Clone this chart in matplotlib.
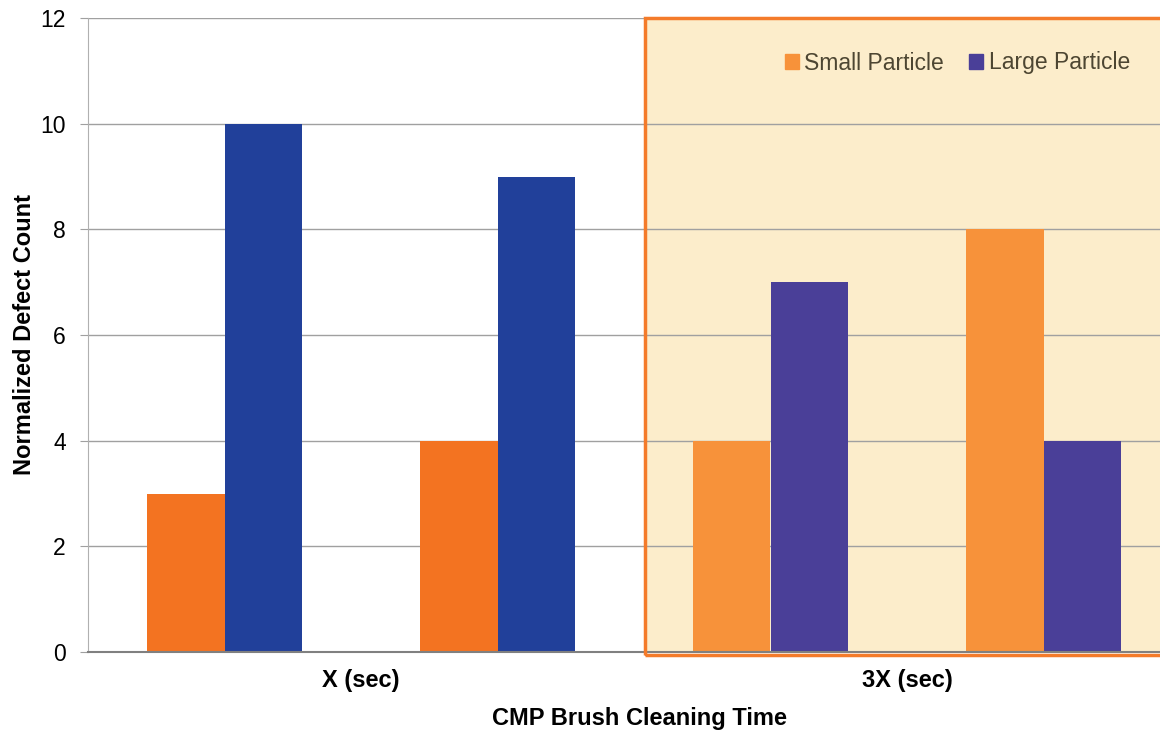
import numpy as np
import matplotlib.pyplot as plt
from matplotlib.patches import Rectangle, Patch

plt.rcParams['font.family'] = ['Liberation Sans', 'DejaVu Sans']

small = [3, 4, 4, 8]
large = [10, 9, 7, 4]
small_colors = ['#F37321', '#F37321', '#F7923A', '#F7923A']
large_colors = ['#21409A', '#21409A', '#4A3F98', '#4A3F98']
cat_labels = ['X (sec)', '3X (sec)']
cat_pos = [0.5, 2.5]

fig = plt.figure(figsize=(11.6, 7.31), dpi=100)
ax = fig.add_axes([88 / 1160, 1 - 652 / 731, (1180 - 88) / 1160, (652 - 18) / 731])

x = np.arange(len(small))
w = 0.285
ax.bar(x - w / 2, small, w, color=small_colors, zorder=2)
ax.bar(x + w / 2, large, w, color=large_colors, zorder=2)

# shaded 3X region
ax.add_patch(Rectangle((1.54, -0.06), 2.2, 12.06, facecolor='#FCEDCB',
                       edgecolor='none', zorder=0.5))
ax.add_patch(Rectangle((1.54, -0.06), 2.2, 12.06, facecolor='none',
                       edgecolor='#F47B2A', lw=2.5, zorder=3, clip_on=False))

ax.set_xlim(-0.5, 3.5)
ax.set_ylim(0, 12)
ax.set_yticks(range(0, 13, 2))
ax.yaxis.grid(True, color='#A0A0A0', lw=1)
for gl in ax.get_ygridlines():
    gl.set_zorder(1)
ax.set_xticks(cat_pos)
ax.set_xticklabels(cat_labels, fontsize=17, fontweight='bold')
ax.tick_params(axis='x', length=0, pad=12)
ax.tick_params(axis='y', length=6, color='#A0A0A0', labelsize=16.5, pad=10)

for s in ['top', 'right']:
    ax.spines[s].set_visible(False)
ax.spines['left'].set_color('#B0B0B0')
ax.spines['bottom'].set_color('#808080')
ax.spines['bottom'].set_linewidth(1.5)
ax.spines['bottom'].set_zorder(2.5)

fig.text(640 / 1160, 1 - 718 / 731, 'CMP Brush Cleaning Time', fontsize=17,
         fontweight='bold', ha='center', va='center')
fig.text(25 / 1160, 1 - 335 / 731, 'Normalized Defect Count', rotation=90,
         fontsize=17, fontweight='bold', ha='center', va='center')

handles = [Patch(color='#F7923A', label='Small Particle'),
           Patch(color='#4A3F98', label='Large Particle')]
fig.legend(handles=handles, loc='center right', bbox_to_anchor=(0.992, 1 - 63 / 731),
           ncol=2, frameon=False, fontsize=16.5, handlelength=0.6, handleheight=0.6,
           handletextpad=0.25, columnspacing=1.1, labelcolor='#4D4632')

fig.savefig('out.png', dpi=100)
